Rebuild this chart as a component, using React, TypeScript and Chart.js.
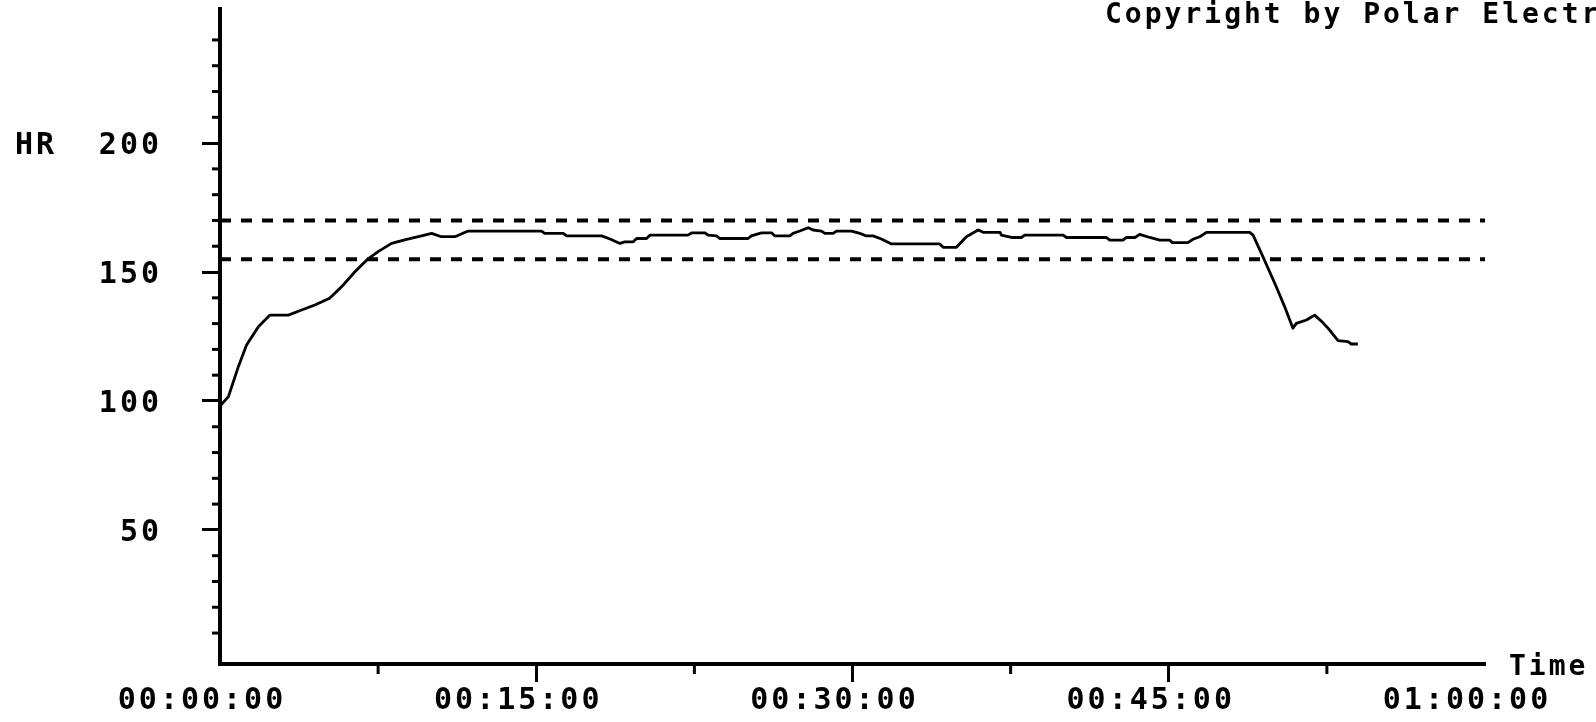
import React, { useEffect, useRef } from "react";
import { Chart, registerables } from "chart.js";

Chart.register(...registerables);

// ---- data ----
const timeMinutes = [
  0, 0.4, 0.87, 1.26, 1.82, 2.37, 3.24, 3.87, 4.5, 5.2, 5.85, 6.4, 6.96, 7.5,
  8.14, 8.85, 9.56, 10.04, 10.5, 11.14, 11.77, 15.25, 15.4, 16.28, 16.44, 18.1,
  18.5, 18.97, 19.2, 19.6, 19.76, 20.23, 20.39, 22.2, 22.37, 23.0, 23.15, 23.55,
  23.7, 25.05, 25.2, 25.68, 26.16, 26.32, 27.03, 27.18, 27.5, 27.9, 28.13, 28.53,
  28.69, 29.08, 29.24, 29.95, 30.35, 30.66, 30.98, 31.37, 31.85, 34.14, 34.3,
  34.93, 35.4, 35.96, 36.2, 37.0, 37.06, 37.54, 38.01, 38.17, 39.99, 40.15,
  42.04, 42.2, 42.83, 42.99, 43.4, 43.62, 44.1, 44.57, 45.04, 45.17, 45.91,
  46.15, 46.47, 46.79, 48.84, 49.0, 49.47, 50.1, 50.5, 50.89, 51.05, 51.53,
  51.92, 52.32, 52.63, 53.03, 53.5, 53.66, 53.97,
];
const heartRate = [
  98, 101.7, 113.3, 121.7, 128.8, 133.3, 133.3, 135.3, 137.2, 139.8, 145, 150.1,
  154.7, 157.9, 161.1, 162.7, 164, 165, 163.7, 163.7, 165.9, 165.9, 165, 165,
  164, 164, 162.8, 161.1, 161.7, 161.7, 163, 163, 164.3, 164.3, 165.2, 165.2,
  164.3, 164, 163, 163, 164, 165.2, 165.2, 164, 164, 165, 165.9, 167.2, 166.3,
  165.9, 165, 165, 165.9, 165.9, 165, 164, 164, 162.8, 160.9, 160.9, 159.6,
  159.6, 163.7, 166.3, 165.4, 165.4, 164.3, 163.4, 163.4, 164.3, 164.3, 163.4,
  163.4, 162.4, 162.4, 163.4, 163.4, 164.6, 163.4, 162.4, 162.4, 161.4, 161.4,
  162.7, 163.7, 165.4, 165.4, 164.3, 155.9, 144.3, 136.5, 128.2, 130.1, 131.4,
  133.3, 130.3, 127.5, 123.4, 123, 122.1, 122.1,
];
const upperLimit = 170;
const lowerLimit = 155;
const limitSpanMinutes = [0, 60];
const yLabelValues = [50, 100, 150, 200];
const xLabelStepMinutes = 15;
const xMinorStepMinutes = 7.5;
const yTitle = "HR";
const xTitle = "Time";
const copyrightText = "Copyright by Polar Electro Oy";

const FONT = '"DejaVu Sans Mono", "Liberation Mono", monospace';

function formatTime(minutes: number): string {
  const total = Math.round(minutes * 60);
  const h = Math.floor(total / 3600);
  const m = Math.floor((total % 3600) / 60);
  const s = total % 60;
  const p = (n: number) => String(n).padStart(2, "0");
  return `${p(h)}:${p(m)}:${p(s)}`;
}

const decorPlugin = {
  id: "polarDecor",
  beforeDraw(chart: any) {
    (chart.ctx as any).letterSpacing = "3px";
  },
  afterDraw(chart: any) {
    const ctx = chart.ctx;
    const xs = chart.scales.x;
    const ys = chart.scales.y;
    const area = chart.chartArea;
    ctx.save();
    ctx.strokeStyle = "#000";
    ctx.lineWidth = 3;
    // minor y ticks
    ys.ticks.forEach((t: any) => {
      if (t.value % 50 !== 0) {
        const py = ys.getPixelForValue(t.value);
        ctx.beginPath();
        ctx.moveTo(area.left - 8, py);
        ctx.lineTo(area.left, py);
        ctx.stroke();
      }
    });
    // minor x ticks
    xs.ticks.forEach((t: any) => {
      if (t.value % xLabelStepMinutes !== 0) {
        const px = xs.getPixelForValue(t.value);
        ctx.beginPath();
        ctx.moveTo(px, area.bottom);
        ctx.lineTo(px, area.bottom + 10);
        ctx.stroke();
      }
    });
    ctx.fillStyle = "#000";
    (ctx as any).letterSpacing = "3px";
    ctx.font = `bold 30px ${FONT}`;
    ctx.textAlign = "left";
    ctx.textBaseline = "middle";
    ctx.fillText(yTitle, 15, ys.getPixelForValue(200) + 3);
    ctx.font = `bold 28px ${FONT}`;
    ctx.textBaseline = "alphabetic";
    ctx.fillText(xTitle, area.right + 24, area.bottom + 11);
    ctx.fillText(copyrightText, 1105, 23);
    ctx.restore();
  },
};

function zeroPadding(s: any) {
  s.paddingTop = 0;
  s.paddingBottom = 0;
  s.paddingLeft = 0;
  s.paddingRight = 0;
}

export default function App() {
  const canvasRef = useRef<HTMLCanvasElement | null>(null);

  useEffect(() => {
    if (!canvasRef.current) return;
    const hrData = timeMinutes.map((t, i) => ({ x: t, y: heartRate[i] }));
    const upper = limitSpanMinutes.map((t) => ({ x: t, y: upperLimit }));
    const lower = limitSpanMinutes.map((t) => ({ x: t, y: lowerLimit }));
    const tickFont = { family: FONT, size: 30, weight: "bold" as const, lineHeight: 1.2 };

    const chart = new Chart(canvasRef.current, {
      type: "line",
      data: {
        datasets: [
          {
            data: upper,
            borderColor: "#000",
            borderWidth: 4,
            borderDash: [11, 10],
            pointRadius: 0,
            fill: false,
          },
          {
            data: lower,
            borderColor: "#000",
            borderWidth: 4,
            borderDash: [11, 10],
            pointRadius: 0,
            fill: false,
          },
          {
            data: hrData,
            borderColor: "#000",
            borderWidth: 2.8,
            pointRadius: 0,
            tension: 0,
            fill: false,
            borderJoinStyle: "round",
          },
        ],
      },
      options: {
        animation: false,
        responsive: false,
        events: [],
        layout: { padding: { top: 9, right: 111, left: 0, bottom: 0 } },
        plugins: {
          legend: { display: false },
          tooltip: { enabled: false },
          title: { display: false },
        },
        scales: {
          x: {
            type: "linear",
            min: 0,
            max: 60,
            afterFit(s: any) {
              s.height = 58;
              zeroPadding(s);
            },
            ticks: {
              stepSize: xMinorStepMinutes,
              autoSkip: false,
              maxRotation: 0,
              minRotation: 0,
              labelOffset: -18,
              padding: 1,
              color: "#000",
              font: tickFont,
              callback: (v: any) => (Number(v) % xLabelStepMinutes === 0 ? formatTime(Number(v)) : ""),
            },
            grid: {
              display: true,
              drawOnChartArea: false,
              drawTicks: true,
              tickLength: 18,
              tickWidth: 3,
              tickColor: (c: any) => {
                const v = c.tick ? c.tick.value : 0;
                return v % xLabelStepMinutes === 0 && v > 0 && v < 60 ? "#000" : "rgba(0,0,0,0)";
              },
            },
            border: { display: true, color: "#000", width: 4 },
          },
          y: {
            type: "linear",
            min: -2,
            max: 252,
            afterFit(s: any) {
              s.width = 220;
              zeroPadding(s);
            },
            afterBuildTicks(s: any) {
              s.ticks = s.ticks.filter(
                (t: any) => t.value >= 0 && t.value <= 240 && Math.abs(t.value % 10) < 1e-6
              );
            },
            ticks: {
              stepSize: 10,
              autoSkip: false,
              padding: 40,
              labelOffset: 3,
              color: "#000",
              font: tickFont,
              callback: (v: any) => (yLabelValues.includes(Number(v)) ? String(v) : ""),
            },
            grid: {
              display: true,
              drawOnChartArea: false,
              drawTicks: true,
              tickLength: 18,
              tickWidth: 3,
              tickColor: (c: any) => {
                const v = c.tick ? c.tick.value : 0;
                return v % 50 === 0 ? "#000" : "rgba(0,0,0,0)";
              },
            },
            border: { display: true, color: "#000", width: 4 },
          },
        },
      },
      plugins: [decorPlugin],
    });
    return () => chart.destroy();
  }, []);

  return (
    <canvas
      ref={canvasRef}
      width={1596}
      height={722}
      style={{ position: "fixed", left: 0, top: 0, display: "block", background: "#fff" }}
    />
  );
}
